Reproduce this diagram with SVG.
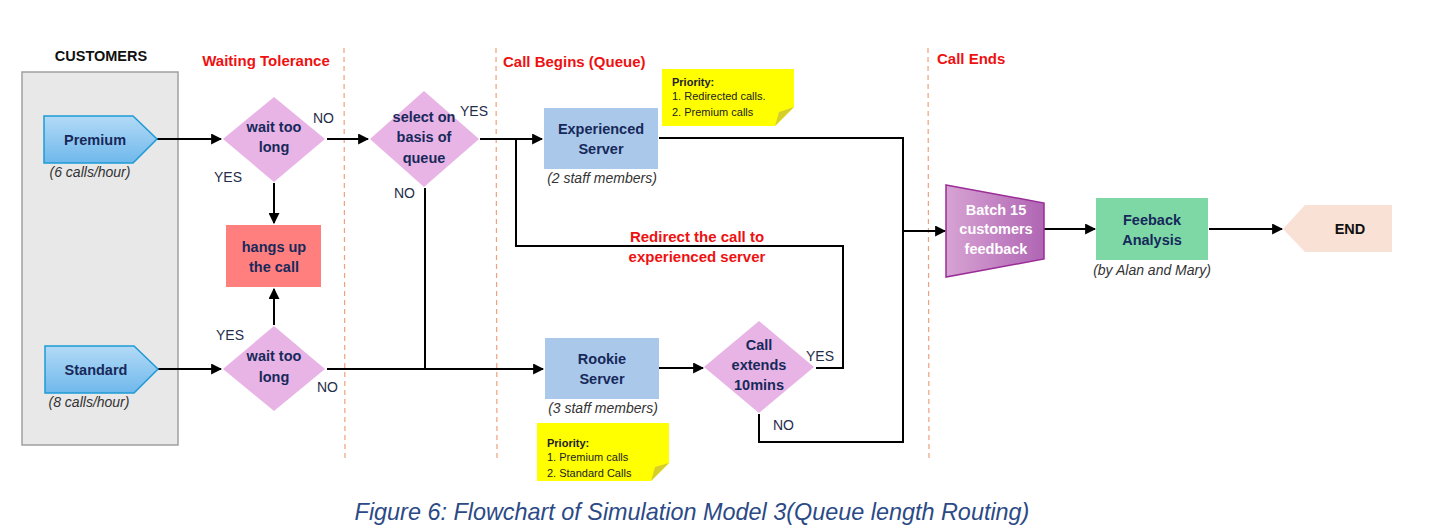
<svg xmlns="http://www.w3.org/2000/svg" width="1429" height="532" viewBox="0 0 1429 532">
<defs>
<linearGradient id="blueG" x1="0" y1="0" x2="0" y2="1">
<stop offset="0" stop-color="#b3daf6"/><stop offset="1" stop-color="#6fb8ec"/>
</linearGradient>
<linearGradient id="purpG" x1="0" y1="0" x2="1" y2="0">
<stop offset="0" stop-color="#d7a3d3"/><stop offset="1" stop-color="#b066b4"/>
</linearGradient>
<marker id="arr" viewBox="0 0 10 10" refX="9" refY="5" markerWidth="5.5" markerHeight="5.5" orient="auto">
<path d="M0,0 L10,5 L0,10 z" fill="#000"/>
</marker>
<style>
.t{font-family:"Liberation Sans",Arial,sans-serif}
.nb{font-weight:bold;font-size:14.5px;fill:#17295a;text-anchor:middle}
.it{font-style:italic;font-size:14px;fill:#333;text-anchor:middle}
.yn{font-size:14px;fill:#1f2d4a}
.hd{font-weight:bold;font-size:15px;fill:#ee1111}
.dia{fill:#e8b4e6}
.srv{fill:#a9c8ea}
.sep{stroke:#f0a07a;stroke-width:1.2;stroke-dasharray:5,4;fill:none}
.ln{stroke:#000;stroke-width:2;fill:none}
.note{fill:#ffff00}
.fold{fill:#d6cf2a}
.nt{font-size:11px;fill:#222}
</style>
</defs>
<rect width="1429" height="532" fill="#fff"/>

<g id="separators">
<line class="sep" x1="344" y1="48" x2="345" y2="460"/>
<line class="sep" x1="496" y1="48" x2="497" y2="460"/>
<line class="sep" x1="928" y1="48" x2="929" y2="460"/>
</g>

<g id="headers" class="t">
<text x="101" y="61" font-weight="bold" font-size="14.5" fill="#111" text-anchor="middle">CUSTOMERS</text>
<text class="hd" x="266" y="66" text-anchor="middle">Waiting Tolerance</text>
<text class="hd" x="503" y="67">Call Begins (Queue)</text>
<text class="hd" x="937" y="64">Call Ends</text>
</g>

<g id="customers">
<rect x="22" y="72" width="156" height="373" fill="#e8e8e8" stroke="#a0a0a0" stroke-width="1.5"/>
</g>

<g id="connectors">
<line class="ln" x1="157" y1="139" x2="221" y2="139" marker-end="url(#arr)"/>
<line class="ln" x1="274" y1="183" x2="274" y2="223" marker-end="url(#arr)"/>
<line class="ln" x1="274" y1="325" x2="274" y2="289" marker-end="url(#arr)"/>
<line class="ln" x1="327" y1="139" x2="368" y2="139" marker-end="url(#arr)"/>
<line class="ln" x1="158" y1="369" x2="221" y2="369" marker-end="url(#arr)"/>
<line class="ln" x1="327" y1="369" x2="543" y2="369" marker-end="url(#arr)"/>
<line class="ln" x1="425" y1="188" x2="425" y2="369"/>
<line class="ln" x1="480" y1="139" x2="542" y2="139" marker-end="url(#arr)"/>
<polyline class="ln" points="816,368 843,368 843,246 516,246 516,139"/>
<polyline class="ln" points="659,138 903,138 903,442 759,442 759,414"/>
<line class="ln" x1="903" y1="231" x2="945" y2="231" marker-end="url(#arr)"/>
<line class="ln" x1="659" y1="368" x2="703" y2="368" marker-end="url(#arr)"/>
<line class="ln" x1="1044" y1="229" x2="1095" y2="229" marker-end="url(#arr)"/>
<line class="ln" x1="1209" y1="229" x2="1282" y2="229" marker-end="url(#arr)"/>
</g>

<g id="labels" class="t">
<text class="yn" x="313" y="123">NO</text>
<text class="yn" x="214" y="182">YES</text>
<text class="yn" x="460" y="116">YES</text>
<text class="yn" x="394" y="198">NO</text>
<text class="yn" x="216" y="340">YES</text>
<text class="yn" x="317" y="392">NO</text>
<text class="yn" x="806" y="361">YES</text>
<text class="yn" x="773" y="430">NO</text>
<text class="hd" x="697" y="242" text-anchor="middle">Redirect the call to</text>
<text class="hd" x="697" y="262" text-anchor="middle">experienced server</text>
</g>

<g id="premium" class="t">
<polygon points="44,116 133,116 157,139 133,163 44,163" fill="url(#blueG)" stroke="#1e9ad6" stroke-width="1.5"/>
<text class="nb" x="95" y="145">Premium</text>
<text class="it" x="90" y="177">(6 calls/hour)</text>
</g>

<g id="standard" class="t">
<polygon points="45,346 134,346 158,369 134,393 45,393" fill="url(#blueG)" stroke="#1e9ad6" stroke-width="1.5"/>
<text class="nb" x="96" y="375">Standard</text>
<text class="it" x="89" y="407">(8 calls/hour)</text>
</g>

<g id="wait1" class="t">
<polygon class="dia" points="274,97 325,139 274,182 223,139"/>
<text class="nb" x="274" y="132">wait too</text>
<text class="nb" x="274" y="152">long</text>
</g>

<g id="wait2" class="t">
<polygon class="dia" points="274,326 325,369 274,411 223,369"/>
<text class="nb" x="274" y="361">wait too</text>
<text class="nb" x="274" y="382">long</text>
</g>

<g id="hangup" class="t">
<rect x="226" y="225" width="95" height="62" fill="#ff7f7f"/>
<text class="nb" x="274" y="252">hangs up</text>
<text class="nb" x="274" y="272">the call</text>
</g>

<g id="select" class="t">
<polygon class="dia" points="424,91 479,139 424,187 370,139"/>
<text class="nb" x="424" y="122">select on</text>
<text class="nb" x="424" y="142">basis of</text>
<text class="nb" x="424" y="163">queue</text>
</g>

<g id="experienced" class="t">
<rect class="srv" x="544" y="108" width="114" height="61"/>
<text class="nb" x="601" y="134">Experienced</text>
<text class="nb" x="601" y="154">Server</text>
<text class="it" x="602" y="183">(2 staff members)</text>
</g>

<g id="note1" class="t">
<polygon class="note" points="662,69 794,69 794,107 775,126 662,126"/>
<polygon class="fold" points="794,107 775,126 779,112"/>
<text class="nt" x="672" y="86" font-weight="bold">Priority:</text>
<text class="nt" x="672" y="100">1. Redirected calls.</text>
<text class="nt" x="672" y="116">2. Premium calls</text>
</g>

<g id="rookie" class="t">
<rect class="srv" x="545" y="338" width="114" height="61"/>
<text class="nb" x="602" y="364">Rookie</text>
<text class="nb" x="602" y="384">Server</text>
<text class="it" x="603" y="413">(3 staff members)</text>
</g>

<g id="note2" class="t">
<polygon class="note" points="537,423 669,423 669,463 651,481 537,481"/>
<polygon class="fold" points="669,463 651,481 655,467"/>
<text class="nt" x="547" y="447" font-weight="bold">Priority:</text>
<text class="nt" x="547" y="461">1. Premium calls</text>
<text class="nt" x="547" y="477">2. Standard Calls</text>
</g>

<g id="extends" class="t">
<polygon class="dia" points="759,321 814,367 759,413 704,367"/>
<text class="nb" x="759" y="350">Call</text>
<text class="nb" x="759" y="370">extends</text>
<text class="nb" x="759" y="390">10mins</text>
</g>

<g id="batch" class="t">
<polygon points="946,185 1044,203 1044,259 946,277" fill="url(#purpG)" stroke="#9a2d98" stroke-width="1.5"/>
<text class="nb" x="996" y="215" style="fill:#fff">Batch 15</text>
<text class="nb" x="996" y="234" style="fill:#fff">customers</text>
<text class="nb" x="996" y="254" style="fill:#fff">feedback</text>
</g>

<g id="feedback" class="t">
<rect x="1096" y="198" width="112" height="62" fill="#7dd8a5"/>
<text class="nb" x="1152" y="225">Feeback</text>
<text class="nb" x="1152" y="245">Analysis</text>
<text class="it" x="1152" y="275">(by Alan and Mary)</text>
</g>

<g id="end" class="t">
<polygon points="1283,229 1305,205 1392,205 1392,252 1305,252" fill="#fae1d5"/>
<text x="1350" y="234" font-weight="bold" font-size="14.5" fill="#111" text-anchor="middle">END</text>
</g>

<g id="caption" class="t">
<text x="692" y="520" font-style="italic" font-size="23.4" fill="#2b4a86" text-anchor="middle">Figure 6: Flowchart of Simulation Model 3(Queue length Routing)</text>
</g>
</svg>
